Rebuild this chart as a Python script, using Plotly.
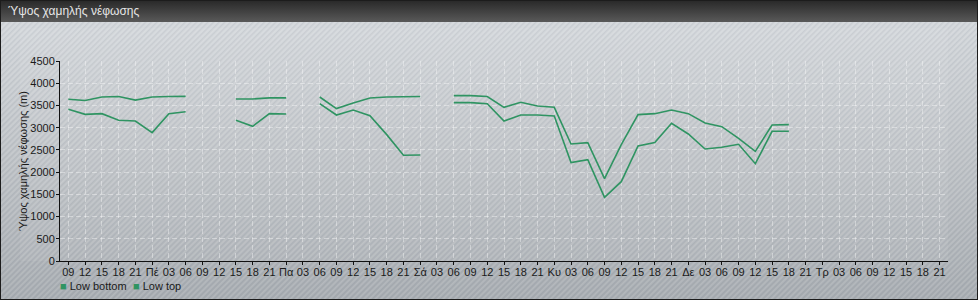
import base64
import plotly.graph_objects as go

# ---------------- data ----------------
tick_labels = ["09", "12", "15", "18", "21",
               "Πέ", "03", "06", "09", "12", "15", "18", "21",
               "Πα", "03", "06", "09", "12", "15", "18", "21",
               "Σά", "03", "06", "09", "12", "15", "18", "21",
               "Κυ", "03", "06", "09", "12", "15", "18", "21",
               "Δε", "03", "06", "09", "12", "15", "18", "21",
               "Τρ", "03", "06", "09", "12", "15", "18", "21"]
slots = list(range(len(tick_labels)))

low_top = [3640, 3610, 3690, 3700, 3620, 3690, 3700, 3705,
           None, None,
           3645, 3645, 3670, 3670,
           None,
           3690, 3430, 3555, 3668, 3690, 3700, 3700,
           None,
           3720, 3720, 3700, 3458, 3570, 3488, 3458, 2633, 2663, 1853, 2618,
           3293, 3315, 3398, 3315, 3105, 3023, 2760, 2468, 3060, 3068,
           None, None, None, None, None, None, None, None, None]

low_bottom = [3413, 3300, 3315, 3165, 3150, 2888, 3315, 3360,
              None, None,
              3165, 3030, 3315, 3308,
              None,
              3540, 3285, 3398, 3270, 2843, 2378, 2385,
              None,
              3563, 3563, 3540, 3150, 3285, 3285, 3263, 2213, 2280, 1433, 1785,
              2588, 2663, 3098, 2858, 2520, 2558, 2625, 2190, 2918, 2918,
              None, None, None, None, None, None, None, None, None]

y_ticks = [0, 500, 1000, 1500, 2000, 2500, 3000, 3500, 4000, 4500]

chart_title = "Ύψος χαμηλής νέφωσης"
y_title = "Ύψος χαμηλής νέφωσης (m)"
series_names = ["Low bottom", "Low top"]

# ---------------- layout geometry ----------------
FW, FH = 978, 300
ML, MR, MT, MB = 60, 30, 61, 39
PW, PH = FW - ML - MR, FH - MT - MB


def px_x(px):
    return (px - ML) / PW


def px_y(py):
    return (FH - MB - py) / PH


LINE = "#2f9462"

svg = f'''<svg xmlns="http://www.w3.org/2000/svg" width="{FW}" height="{FH}" viewBox="0 0 {FW} {FH}">
<defs>
<linearGradient id="tb" x1="0" y1="0" x2="0" y2="1">
<stop offset="0" stop-color="#2a2a2a"/><stop offset="1" stop-color="#595959"/></linearGradient>
<linearGradient id="pn" x1="0" y1="0" x2="0" y2="1">
<stop offset="0" stop-color="#d2d6da"/><stop offset="0.5" stop-color="#bdc1c5"/><stop offset="1" stop-color="#a6abb0"/></linearGradient>
<pattern id="st" width="4" height="4" patternUnits="userSpaceOnUse" patternTransform="rotate(45)">
<rect x="0" y="0" width="1.6" height="4" fill="#ffffff" fill-opacity="0.14"/>
<rect x="2" y="0" width="1.2" height="4" fill="#6f7a88" fill-opacity="0.10"/></pattern>
</defs>
<rect width="{FW}" height="{FH}" fill="#1c1c1c"/>
<rect x="1" y="1" width="{FW-2}" height="21" fill="url(#tb)"/>
<rect x="1" y="22" width="{FW-2}" height="{FH-23}" fill="url(#pn)"/>
<rect x="1" y="22" width="{FW-2}" height="{FH-23}" fill="url(#st)"/>
<rect x="20" y="28" width="928" height="233" fill="#ffffff" fill-opacity="0.06"/>
</svg>'''
svg_uri = "data:image/svg+xml;base64," + base64.b64encode(svg.encode("utf-8")).decode("ascii")

fig = go.Figure()
fig.add_trace(go.Scatter(x=slots, y=low_bottom, name=series_names[0], mode="lines",
                         line=dict(color=LINE, width=1.6), connectgaps=False, showlegend=False))
fig.add_trace(go.Scatter(x=slots, y=low_top, name=series_names[1], mode="lines",
                         line=dict(color=LINE, width=1.6), connectgaps=False, showlegend=False))

FONT = "Liberation Sans, Arial, sans-serif"
GRID = "rgba(255,255,255,0.38)"

fig.update_layout(
    width=FW, height=FH,
    margin=dict(l=ML, r=MR, t=MT, b=MB, pad=0),
    paper_bgcolor="rgba(0,0,0,0)",
    plot_bgcolor="rgba(0,0,0,0)",
    font=dict(family=FONT, size=11, color="#1a1a1a"),
    showlegend=False,
    images=[dict(source=svg_uri, xref="paper", yref="paper",
                 x=px_x(0), y=px_y(0), sizex=FW / PW, sizey=FH / PH,
                 xanchor="left", yanchor="top", sizing="stretch", layer="below")],
    xaxis=dict(range=[-0.5, len(slots) - 0.5], tickmode="array", tickvals=slots,
               ticktext=tick_labels, showline=True, linecolor="#111111", linewidth=1,
               ticks="outside", ticklen=3, tickcolor="#111111", ticklabelstandoff=-2,
               showgrid=True, gridcolor=GRID, griddash="5px,3px", gridwidth=1,
               zeroline=False, tickfont=dict(family=FONT, size=11, color="#1a1a1a"),
               tickangle=0, fixedrange=True),
    yaxis=dict(range=[0, 4500], tickmode="array", tickvals=y_ticks,
               ticktext=[str(v) for v in y_ticks], showline=True, linecolor="#111111",
               linewidth=1, ticks="outside", ticklen=3, tickcolor="#111111",
               ticklabelstandoff=-1,
               showgrid=True, gridcolor=GRID, griddash="5px,3px", gridwidth=1,
               zeroline=False, tickfont=dict(family=FONT, size=11, color="#1a1a1a"),
               title=dict(text=y_title, font=dict(family=FONT, size=11, color="#1a1a1a"),
                          standoff=0),
               fixedrange=True),
    annotations=[
        dict(text=chart_title, xref="paper", yref="paper", x=px_x(6), y=px_y(11),
             xanchor="left", yanchor="middle", showarrow=False,
             font=dict(family=FONT, size=12, color="#e6e6e6")),
        dict(text=f'<span style="color:{LINE}">■</span> ' + series_names[0],
             xref="paper", yref="paper", x=px_x(58), y=px_y(286),
             xanchor="left", yanchor="middle", showarrow=False,
             font=dict(family=FONT, size=11, color="#1a1a1a")),
        dict(text=f'<span style="color:{LINE}">■</span> ' + series_names[1],
             xref="paper", yref="paper", x=px_x(131), y=px_y(286),
             xanchor="left", yanchor="middle", showarrow=False,
             font=dict(family=FONT, size=11, color="#1a1a1a")),
    ],
)

fig.write_html("out.html")
